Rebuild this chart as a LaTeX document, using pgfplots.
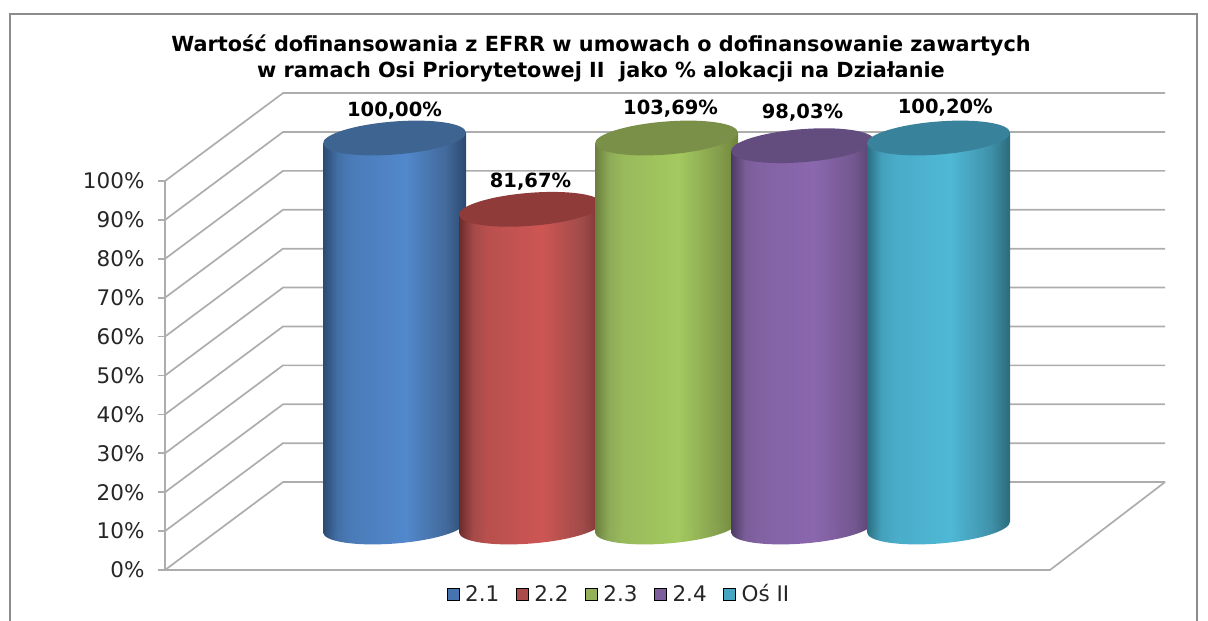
\documentclass[border=0pt]{standalone}
\usepackage{pgfplots}
\pgfplotsset{compat=1.18}
\usepackage{fontspec}
\setmainfont{DejaVu Sans}
\definecolor{gridc}{HTML}{ADADAD}
\definecolor{framec}{HTML}{8C8C8C}
\newcommand{\cylshade}[6]{%
  \definecolor{#1a}{HTML}{#2}\definecolor{#1b}{HTML}{#3}\definecolor{#1c}{HTML}{#4}\definecolor{#1d}{HTML}{#5}\definecolor{#1e}{HTML}{#6}%
  \pgfdeclarehorizontalshading{#1}{100bp}{color(0bp)=(#1a); color(25bp)=(#1a); color(30bp)=(#1b); color(35bp)=(#1b!50!#1c); color(54bp)=(#1c); color(68bp)=(#1d); color(75bp)=(#1e); color(100bp)=(#1e)}%
}
\cylshade{cblue}{2C4A72}{436FA6}{5288CC}{42699A}{2C4870}
\cylshade{cred}{6B2B2A}{A44A48}{CD5654}{A04B49}{7A3432}
\cylshade{cgreen}{6A7F3D}{8EAB58}{A4C95F}{849F4D}{6E843A}
\cylshade{cpurple}{4B3A63}{7A5D98}{8B67AE}{735790}{53406B}
\cylshade{cteal}{2A6E80}{44A0BB}{4FB8D5}{4092AB}{2B6A7C}
\definecolor{tblue}{HTML}{3E6591}
\definecolor{tred}{HTML}{8E3B39}
\definecolor{tgreen}{HTML}{7A8F47}
\definecolor{tpurple}{HTML}{634C7E}
\definecolor{tteal}{HTML}{38839B}
\newcommand{\cylmarks}[2]{%
  \pgfdeclareplotmark{bot#1}{\pgftransformrotate{4.5}\pgfpathellipse{\pgfpointorigin}{\pgfqpoint{71.7pt}{0pt}}{\pgfqpoint{0pt}{16.5pt}}\pgfshadepath{#1}{0}\pgfusepath{discard}}%
  \pgfdeclareplotmark{top#1}{\pgftransformrotate{4.5}\pgfsetfillcolor{#2}\pgfpathellipse{\pgfpointorigin}{\pgfqpoint{71.7pt}{0pt}}{\pgfqpoint{0pt}{16.5pt}}\pgfusepath{fill}}%
}
\cylmarks{cblue}{tblue}
\cylmarks{cred}{tred}
\cylmarks{cgreen}{tgreen}
\cylmarks{cpurple}{tpurple}
\cylmarks{cteal}{tteal}
% the value axis of the chart ends at 100%: taller columns are cut there
\newcommand{\cyl}[3]{% name, x, value
  \pgfmathsetmacro{\cylv}{min(#3,100)}%
  \addplot[only marks,mark=bot#1] coordinates {(#2,0)};
  \addplot[draw=none,shade,shading=#1,mark=none] coordinates {(#2-0.5257,-1.3) (#2-0.5257,\cylv-1.3) (#2+0.5257,\cylv+1.3) (#2+0.5257,1.3)} -- cycle;
  \addplot[only marks,mark=top#1] coordinates {(#2,\cylv)};
}
\begin{document}
\begin{tikzpicture}
\path[use as bounding box] (-165pt,0pt) rectangle (1043pt,621pt);
\draw[framec,line width=1.6pt] (-155pt,0pt) -- (-155pt,607pt) -- (1032pt,607pt) -- (1032pt,0pt);
\begin{axis}[
  at={(0pt,0pt)},anchor=south west,
  scale only axis,width=1043pt,height=621pt,
  xmin=165,xmax=1208,ymin=-13.11,ymax=146.53,
  clip=false,
  axis line style={draw=none},
  xtick=\empty,
  ytick={0,10,...,100},
  yticklabels={0\%,10\%,20\%,30\%,40\%,50\%,60\%,70\%,80\%,90\%,100\%},
  ytick pos=left,
  tick align=outside,
  major tick length=7pt,
  y tick style={gridc,line width=1.7pt},
  y tick label style={font=\fontsize{21.5}{24}\selectfont,text=black!85,xshift=-10pt},
]
\pgfplotsinvokeforeach{0,10,...,90,100}{
  \addplot[gridc,line width=1.7pt,mark=none] coordinates {(165,#1) (283,#1+22.6) (1165,#1+22.6)};
}
\addplot[gridc,line width=1.7pt,mark=none] coordinates {(165,100) (165,0) (1050,0) (1165,22.6)};
\end{axis}
\begin{axis}[
  at={(0pt,0pt)},anchor=south west,
  scale only axis,width=1043pt,height=621pt,
  xmin=-1.6875,xmax=5.9816,ymin=-24.16,ymax=135.48,
  hide axis,clip mode=individual,clip marker paths=true,
  legend style={at={(0.4353,0.0435)},anchor=center,draw=none,fill=none,
    font=\fontsize{21.5}{24}\selectfont,text=black!85,
    legend columns=5,/tikz/every even column/.style={column sep=14.5pt}},
  legend image code/.code={\fill[#1] (2pt,-6pt) rectangle (14pt,6pt);\path (18pt,0pt);},
]
\addlegendimage{fill=cblueb!80!cbluec}\addlegendentry{2.1}
\addlegendimage{fill=credb!80!credc}\addlegendentry{2.2}
\addlegendimage{fill=cgreenb!80!cgreenc}\addlegendentry{2.3}
\addlegendimage{fill=cpurpleb!80!cpurplec}\addlegendentry{2.4}
\addlegendimage{fill=ctealb!80!ctealc}\addlegendentry{Oś II}
\cyl{cblue}{0}{100.00}
\cyl{cred}{1}{81.67}
\cyl{cgreen}{2}{103.69}
\cyl{cpurple}{3}{98.03}
\cyl{cteal}{4}{100.20}
\tikzset{dl/.style={font=\bfseries\fontsize{19.5}{22}\selectfont,text=black}}
\node[dl] at (axis cs:0,107.0) {100,00\%};
\node[dl] at (axis cs:1.0,88.8) {81,67\%};
\node[dl] at (axis cs:2.03,107.6) {103,69\%};
\node[dl] at (axis cs:3.0,106.5) {98,03\%};
\node[dl] at (axis cs:4.05,107.9) {100,20\%};
\end{axis}
\node[font=\bfseries\fontsize{20.8}{26}\selectfont,align=center,text=black] at (436pt,563pt) {Wartość dofinansowania z EFRR w umowach o dofinansowanie zawartych\\w ramach Osi Priorytetowej II\ \ jako \% alokacji na Działanie};
\end{tikzpicture}
\end{document}
